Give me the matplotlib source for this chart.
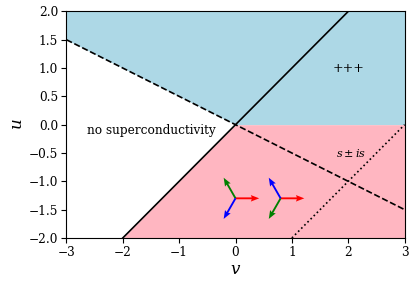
import numpy as np
import matplotlib
matplotlib.use('Agg')
import matplotlib.pyplot as plt

plt.rcParams['font.family'] = 'DejaVu Serif'
plt.rcParams['mathtext.fontset'] = 'dejavuserif'

# границы фаз
v = np.array([-3.0, 3.0])
dash_u = -v / 2          # пунктир u = -v/2
solid_v = np.array([-2.0, 2.0])
solid_u = solid_v        # сплошная u = v
dot_v = np.array([1.0, 3.0])
dot_u = dot_v - 3        # точечная u = v - 3

# тройки стрелок (центры, углы, цвета)
triad_v = [0.0, 0.8]
triad_u = [-1.3, -1.3]
triad_angles = [[0, 120, 240], [0, 240, 120]]
triad_colors = ['red', 'green', 'blue']
arrow_len = 0.42

fig, ax = plt.subplots(figsize=(4.15, 2.85), dpi=100)

vv = np.linspace(-3, 3, 601)
ax.fill_between(vv, np.maximum(0, -vv / 2), 2, color='lightblue', lw=0)
ax.fill_between(vv, -2, np.minimum(vv, 0), where=vv >= -2.0, color='lightpink', lw=0)

ax.plot(v, dash_u, 'k--', lw=1.2)
ax.plot(solid_v, solid_u, 'k-', lw=1.2)
ax.plot(dot_v, dot_u, 'k:', lw=1.2)

for cv, cu, angs in zip(triad_v, triad_u, triad_angles):
    for a, c in zip(angs, triad_colors):
        dx = arrow_len * np.cos(np.radians(a))
        dy = arrow_len * np.sin(np.radians(a))
        ax.quiver(cv, cu, dx, dy, color=c, angles='xy', scale_units='xy', scale=1,
                  width=0.0055, headwidth=3.5, headlength=4.5, headaxislength=4)

ax.text(2.0, 1.0, '+++', ha='center', va='center', fontsize=9)
ax.text(2.05, -0.5, r'$s\pm is$', ha='center', va='center', fontsize=8)
ax.text(-1.5, -0.1, 'no superconductivity', ha='center', va='center', fontsize=8.7)

ax.set_xlim(-3, 3)
ax.set_ylim(-2, 2)
ax.set_xticks([-3, -2, -1, 0, 1, 2, 3])
ax.set_yticks(np.arange(-2, 2.01, 0.5))
ax.tick_params(labelsize=8.7, pad=2.5)
ax.set_xlabel(r'$v$', fontsize=12, labelpad=1)
ax.set_ylabel(r'$u$', fontsize=12, labelpad=2)

plt.subplots_adjust(left=0.16, right=0.975, top=0.96, bottom=0.165)
plt.savefig('out.png')
